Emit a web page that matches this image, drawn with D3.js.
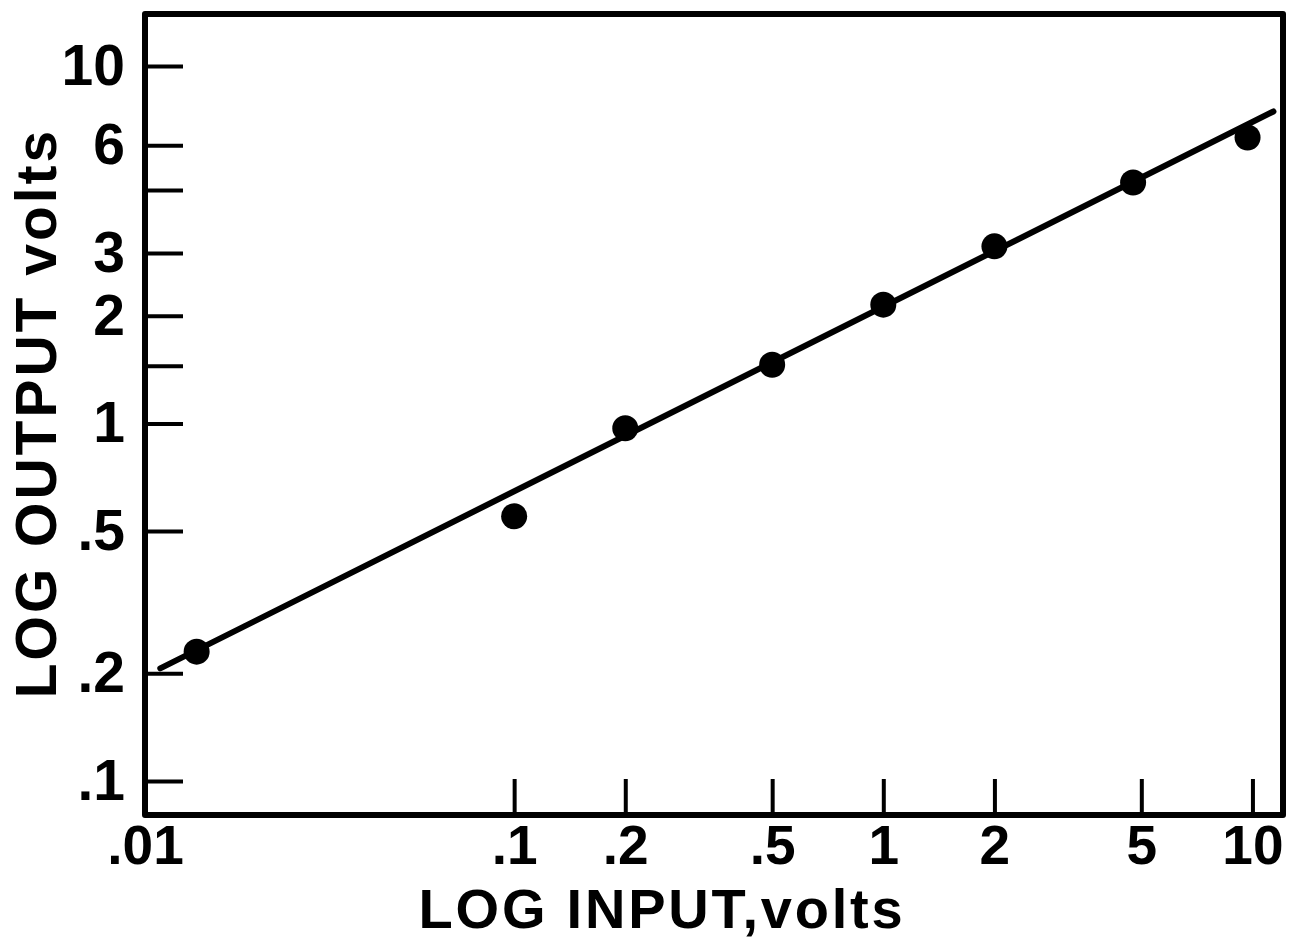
<!DOCTYPE html>
<html>
<head>
<meta charset="utf-8">
<script src="https://cdn.jsdelivr.net/npm/d3@7"></script>
<style>
    body { margin: 0; background: #fff; }
    svg { display: block; }
    text { font-family: "Liberation Sans", Arial, Helvetica, sans-serif; font-weight: bold; fill: #000; }
</style>
</head>
<body>
<div id="chart"></div>
<script>
// Measured points (input volts / output volts)
const inputVolts = [0.0138, 0.1, 0.2, 0.5, 1, 2, 4.75, 9.7];
const outputVolts = [0.23, 0.55, 0.97, 1.46, 2.15, 3.13, 4.72, 6.31];

// Fitted straight line, two end points
const fitInput = [0.011, 11.4];
const fitOutput = [0.2065, 7.46];

// Tick values and labels
const xTicks = [0.01, 0.1, 0.2, 0.5, 1, 2, 5, 10];
const xTickLabels = [".01", ".1", ".2", ".5", "1", "2", "5", "10"];
const yTicks = [0.1, 0.2, 0.5, 1, 1.45, 2, 3, 4.5, 6, 10];
const yTickLabels = [".1", ".2", ".5", "1", "", "2", "3", "", "6", "10"];

const width = 1299;
const height = 940;
const plotLeft = 145, plotRight = 1283, plotTop = 14, plotBottom = 815;

const svg = d3.select("#chart")
    .append("svg")
    .attr("width", width)
    .attr("height", height);

// Log scales
const x = d3.scaleLog().domain([0.01, 12.1]).range([plotLeft, plotRight]);
const y = d3.scaleLog().domain([0.0803, 13.98]).range([plotBottom, plotTop]);

// Frame
svg.append("rect")
    .attr("x", plotLeft)
    .attr("y", plotTop)
    .attr("width", plotRight - plotLeft)
    .attr("height", plotBottom - plotTop)
    .attr("fill", "none")
    .attr("stroke", "#000")
    .attr("stroke-width", 6)
    .attr("stroke-linejoin", "round");

// X axis: ticks inward, labels below
const xAxis = d3.axisBottom(x)
    .tickValues(xTicks)
    .tickSize(-36)
    .tickPadding(22)
    .tickFormat((d, i) => xTickLabels[i]);

const gx = svg.append("g")
    .attr("transform", `translate(0, ${plotBottom})`)
    .call(xAxis);
gx.select(".domain").remove();
gx.selectAll(".tick line").attr("stroke", "#000").attr("stroke-width", 4);
gx.selectAll(".tick text")
    .attr("font-size", 55)
    .attr("y", 49)
    .attr("dy", null);

// Y axis: ticks inward, labels left
const yAxis = d3.axisLeft(y)
    .tickValues(yTicks)
    .tickSize(-38)
    .tickPadding(20)
    .tickFormat((d, i) => yTickLabels[i]);

const gy = svg.append("g")
    .attr("transform", `translate(${plotLeft}, 0)`)
    .call(yAxis);
gy.select(".domain").remove();
gy.selectAll(".tick line").attr("stroke", "#000").attr("stroke-width", 4);
gy.selectAll(".tick text")
    .attr("font-size", 57);

// let the css font apply to axis text
svg.selectAll("g").attr("font-family", null).attr("font-size", null);
svg.selectAll(".tick text").attr("fill", "#000");

// Fitted line
const fitData = fitInput.map((d, i) => ({ x: d, y: fitOutput[i] }));
svg.append("path")
    .datum(fitData)
    .attr("d", d3.line().x(d => x(d.x)).y(d => y(d.y)))
    .attr("fill", "none")
    .attr("stroke", "#000")
    .attr("stroke-width", 6)
    .attr("stroke-linecap", "round");

// Data points
svg.selectAll("circle.pt")
    .data(inputVolts.map((d, i) => ({ x: d, y: outputVolts[i] })))
    .enter()
    .append("circle")
    .attr("class", "pt")
    .attr("cx", d => x(d.x))
    .attr("cy", d => y(d.y))
    .attr("r", 13)
    .attr("fill", "#000");

// Axis titles
svg.append("text")
    .attr("x", 662)
    .attr("y", 928)
    .attr("text-anchor", "middle")
    .attr("font-size", 56)
    .attr("letter-spacing", 2.8)
    .text("LOG INPUT,volts");

svg.append("text")
    .attr("transform", "translate(56, 413) rotate(-90)")
    .attr("text-anchor", "middle")
    .attr("font-size", 57)
    .attr("letter-spacing", 3)
    .text("LOG OUTPUT volts");
</script>
</body>
</html>
